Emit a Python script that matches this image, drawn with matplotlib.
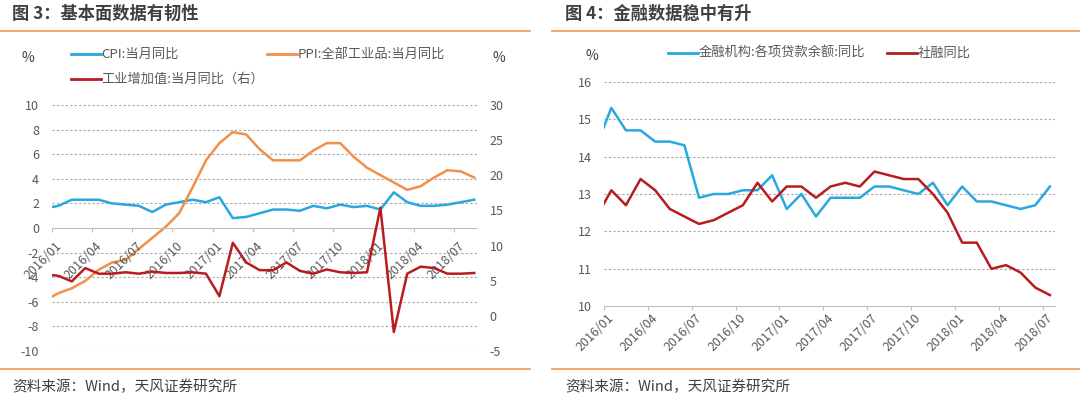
import matplotlib.pyplot as plt
from matplotlib.lines import Line2D
from matplotlib.transforms import offset_copy
import numpy as np

plt.rcParams['font.family'] = ['Noto Sans CJK SC', 'DejaVu Sans']
plt.rcParams['axes.unicode_minus'] = False

# 图3 数据: 2015/12 - 2018/08 (首点在坐标轴起点左侧, 被裁掉)
cpi = [1.6,
       1.8, 2.3, 2.3, 2.3, 2.0, 1.9, 1.8, 1.3, 1.9, 2.1, 2.3, 2.1,
       2.5, 0.8, 0.9, 1.2, 1.5, 1.5, 1.4, 1.8, 1.6, 1.9, 1.7, 1.8,
       1.5, 2.9, 2.1, 1.8, 1.8, 1.9, 2.1, 2.3]
ppi = [-5.9,
       -5.3, -4.9, -4.3, -3.4, -2.8, -2.6, -1.7, -0.8, 0.1, 1.2, 3.3, 5.5,
       6.9, 7.8, 7.6, 6.4, 5.5, 5.5, 5.5, 6.3, 6.9, 6.9, 5.8, 4.9,
       4.3, 3.7, 3.1, 3.4, 4.1, 4.7, 4.6, 4.1]
iva = [5.9,
       5.7, 4.9, 6.8, 6.0, 6.0, 6.2, 6.0, 6.3, 6.1, 6.1, 6.2, 6.0,
       2.8, 10.4, 7.6, 6.5, 6.5, 7.6, 6.4, 6.0, 6.6, 6.2, 6.1, 6.2,
       15.4, -2.3, 6.0, 7.0, 6.8, 6.0, 6.0, 6.1]

# 图4 数据: 2015/12 - 2018/07
loan = [14.3,
        15.3, 14.7, 14.7, 14.4, 14.4, 14.3, 12.9, 13.0, 13.0, 13.1, 13.1, 13.5,
        12.6, 13.0, 12.4, 12.9, 12.9, 12.9, 13.2, 13.2, 13.1, 13.0, 13.3, 12.7,
        13.2, 12.8, 12.8, 12.7, 12.6, 12.7, 13.2]
tsf = [12.4,
       13.1, 12.7, 13.4, 13.1, 12.6, 12.4, 12.2, 12.3, 12.5, 12.7, 13.3, 12.8,
       13.2, 13.2, 12.9, 13.2, 13.3, 13.2, 13.6, 13.5, 13.4, 13.4, 13.0, 12.5,
       11.7, 11.7, 11.0, 11.1, 10.9, 10.5, 10.3]

tick_labels = ['2016/01', '2016/04', '2016/07', '2016/10', '2017/01', '2017/04',
               '2017/07', '2017/10', '2018/01', '2018/04', '2018/07']

W, H = 1080, 397
BLUE = '#27A8E0'
ORANGE = '#F0904A'
RED = '#B81C20'
GREY = '#595959'
GRID = '#A6A6A6'
LINE = '#F0A060'


def fx(x):
    return x / W


def fy(y):
    return 1 - y / H


fig = plt.figure(figsize=(W / 100, H / 100), dpi=100)

# 标题 / 分隔线 / 来源
for x0, x1, title in [(12, 0, '图 3：基本面数据有韧性'), (565, 552, '图 4：金融数据稳中有升')]:
    fig.text(fx(x0), fy(14), title, fontsize=12.4, fontweight='bold', color='#404040', va='center')
    fig.text(fx(x0), fy(387), '资料来源：Wind，天风证券研究所', fontsize=10.5, color='#404040', va='center')
    xe = 530 if x1 == 0 else W
    fig.add_artist(Line2D([fx(x1), fx(xe)], [fy(31)] * 2, color=LINE, lw=1.3))
    fig.add_artist(Line2D([fx(x1), fx(xe)], [fy(369)] * 2, color=LINE, lw=1.3))


def legend_item(x0, y, color, label):
    fig.add_artist(Line2D([fx(x0), fx(x0 + 30)], [fy(y)] * 2, color=color, lw=2.0))
    fig.text(fx(x0 + 31), fy(y), label, fontsize=9.5, color=GREY, va='center')


def month_labels(ax, base, dx, dy):
    for i, lab in enumerate(tick_labels):
        ax.text(3 * i, base, lab,
                transform=offset_copy(ax.transData, fig=fig, x=dx, y=dy, units='dots'),
                rotation=45, ha='right', va='center', rotation_mode='anchor',
                fontsize=9, color=GREY)


def style(ax, yticks, base):
    for s in ['top', 'left', 'right']:
        ax.spines[s].set_visible(False)
    ax.spines['bottom'].set_position(('data', base))
    ax.spines['bottom'].set_color('#BFBFBF')
    ax.set_yticks(yticks)
    ax.tick_params(axis='y', length=0, pad=9, labelsize=9, labelcolor=GREY)
    ax.set_xticks(np.arange(0, 31, 3))
    ax.set_xticklabels([])
    ax.tick_params(axis='x', direction='out', length=3, color='#BFBFBF')
    for v in yticks:
        if v != base:
            ax.axhline(v, color=GRID, lw=0.8, ls=(0, (2, 2)), zorder=0)


# ---------- 图3 ----------
ax1 = fig.add_axes([fx(51.7), fy(351), (477 - 51.7) / W, 246 / H])
ax1.set_xlim(0, 31.7)
ax1.set_ylim(-10, 10)
style(ax1, np.arange(-10, 11, 2), 0)
x1 = np.arange(len(cpi)) - 0.5
ax1.plot(x1, cpi, color=BLUE, lw=1.8)
ax1.plot(x1, ppi, color=ORANGE, lw=1.8)

ax2 = ax1.twinx()
ax2.set_ylim(-5, 30)
ax2.set_yticks(np.arange(-5, 31, 5))
for s in ax2.spines.values():
    s.set_visible(False)
ax2.tick_params(axis='y', length=0, pad=9, labelsize=9, labelcolor=GREY)
ax2.plot(x1, iva, color=RED, lw=1.8)

month_labels(ax1, 0, 8, -16)

fig.text(fx(28), fy(58), '%', fontsize=10, color='#404040', ha='center', va='center')
fig.text(fx(499), fy(58), '%', fontsize=10, color='#404040', ha='center', va='center')
legend_item(70.6, 54, BLUE, 'CPI:当月同比')
legend_item(267, 54, ORANGE, 'PPI:全部工业品:当月同比')
legend_item(70.6, 79, RED, '工业增加值:当月同比（右）')

# ---------- 图4 ----------
ax3 = fig.add_axes([fx(604), fy(306.3), 451 / W, 224.6 / H])
ax3.set_xlim(0, 30.85)
ax3.set_ylim(10, 16)
style(ax3, np.arange(10, 17, 1), 10)
x3 = np.arange(len(loan)) - 0.5
ax3.plot(x3, loan, color=BLUE, lw=1.8)
ax3.plot(x3, tsf, color=RED, lw=1.8)
month_labels(ax3, 10, 8, -10)

fig.text(fx(592), fy(56), '%', fontsize=10, color='#404040', ha='center', va='center')
legend_item(668, 53, BLUE, '金融机构:各项贷款余额:同比')
legend_item(887, 53, RED, '社融同比')

fig.savefig('out.png', dpi=100)
